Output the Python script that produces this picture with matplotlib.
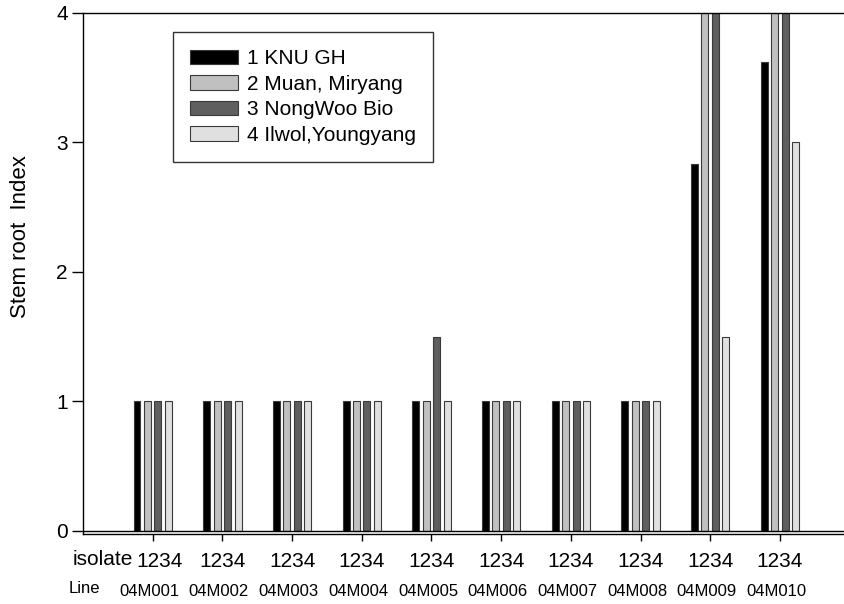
import numpy as np
import matplotlib
matplotlib.use('Agg')
import matplotlib.pyplot as plt
import matplotlib.transforms as mtransforms

plt.rcParams['font.family'] = ['Liberation Sans', 'DejaVu Sans']

# data
lines = ['04M001', '04M002', '04M003', '04M004', '04M005',
         '04M006', '04M007', '04M008', '04M009', '04M010']
series_names = ['1 KNU GH', '2 Muan, Miryang', '3 NongWoo Bio', '4 Ilwol,Youngyang']
knu_gh  = [1, 1, 1, 1, 1,   1, 1, 1, 2.83, 3.62]
muan    = [1, 1, 1, 1, 1,   1, 1, 1, 4.5,  4.5]
nongwoo = [1, 1, 1, 1, 1.5, 1, 1, 1, 4.5,  4.5]
ilwol   = [1, 1, 1, 1, 1,   1, 1, 1, 1.5,  3.0]
tick_text = '1234'

colors = ['#000000', '#c0c0c0', '#5f5f5f', '#e0e0e0']

fig = plt.figure(figsize=(8.44, 6.04), dpi=100)
ax = fig.add_axes([83 / 844, 1 - 534 / 604, 761 / 844, (534 - 13) / 604])

x = np.arange(1, len(lines) + 1)
width = 0.1
step = 0.15
for i, (vals, name) in enumerate(zip([knu_gh, muan, nongwoo, ilwol], series_names)):
    ax.bar(x + (i - 1.5) * step, vals, width, color=colors[i],
           edgecolor='#3a3a3a', linewidth=0.8, label=name, zorder=2)

ax.axhline(0, color='black', linewidth=1.0, zorder=3)

ax.set_xlim(0, 10.92)
ax.set_ylim(-0.025, 4)
ax.set_yticks([0, 1, 2, 3, 4])
ax.set_xticks(x)
ax.set_xticklabels([tick_text] * len(lines))
ax.tick_params(axis='x', direction='out', length=5, width=1, labelsize=15, pad=8)
ax.tick_params(axis='y', direction='out', length=8, width=1, labelsize=15, pad=3)
ax.spines['right'].set_visible(False)
for s in ['left', 'top', 'bottom']:
    ax.spines[s].set_linewidth(1.0)
ax.set_ylabel('Stem root  Index', fontsize=16)
ax.yaxis.set_label_coords(-0.068, 0.57)

# first "1234" sits a little right of its tick, next to "isolate"
first = ax.get_xticklabels()[0]
first.set_transform(first.get_transform() +
                    mtransforms.ScaledTranslation(7 / 100, 0, fig.dpi_scale_trans))

trans = mtransforms.blended_transform_factory(ax.transData, ax.transAxes)
ax.text(0.72, -0.048, 'isolate', transform=trans, ha='right', va='center', fontsize=15)
ax.text(0.02, -0.104, 'Line', transform=trans, ha='center', va='center', fontsize=12)
for xi, name in zip(x, lines):
    ax.text(xi - 0.05, -0.11, name, transform=trans, ha='center', va='center', fontsize=12)

leg = ax.legend(loc='upper left', bbox_to_anchor=(0.118, 0.963), borderaxespad=0,
                fancybox=False, frameon=True, edgecolor='black', fontsize=15,
                handlelength=2.3, handleheight=0.68, labelspacing=0.31,
                handletextpad=0.45, borderpad=0.82)
leg.get_frame().set_linewidth(1.0)

fig.savefig('out.png', dpi=100)
